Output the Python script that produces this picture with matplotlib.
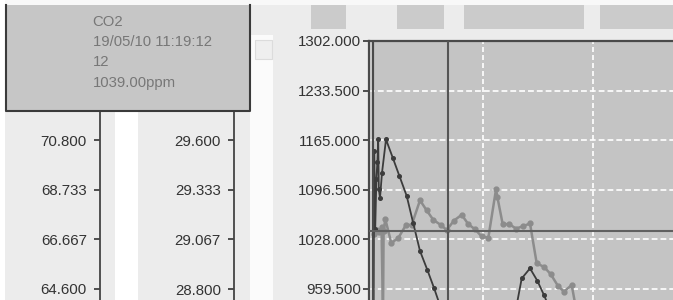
import matplotlib
matplotlib.use('Agg')
import matplotlib.pyplot as plt
from matplotlib.patches import Rectangle
from matplotlib.lines import Line2D

plt.rcParams['font.family'] = ['Liberation Sans', 'DejaVu Sans']

# tooltip content
tip_lines = ['CO2', '19/05/10 11:19:12', '12', '1039.00ppm']
cursor_t = 75
cursor_val = 1039.0

# axis ticks
rh_ticks = [70.800, 68.733, 66.667, 64.600]
temp_ticks = [29.600, 29.333, 29.067, 28.800]
co2_ticks = [1302.0, 1233.5, 1165.0, 1096.5, 1028.0, 959.5]
time_grid = [110, 220]

# series (time index, ppm)
light_t = [1.0, 3.5, 6.0, 8.5, 10.0, 10.6, 12.3, 18.3, 25.3, 33.0, 38.7, 47.0, 53.7, 60.3,
           67.7, 73.7, 81.0, 88.7, 95.3, 102.0, 108.7, 115.3, 123.0, 124.3, 129.7, 136.3,
           143.0, 149.7, 157.0, 163.7, 171.0, 177.7, 185.3, 191.0, 198.7, 204.0]
light_v = [1036, 1041, 1038, 1045, 920, 1040, 1056, 1023, 1030, 1048, 1048, 1082, 1068, 1055,
           1048, 1041, 1054, 1062, 1049, 1042, 1032, 1030, 1097, 1087, 1049, 1049,
           1043, 1046, 1050, 995, 990, 980, 963, 956, 965, 925]
dark_t = [0.6, 1.2, 2.2, 3.4, 4.4, 5.2, 5.8, 7.0, 9.0, 13.0, 19.7, 26.3, 33.7, 40.3, 47.0,
          54.3, 61.0, 67.7, 90, 120, 142, 148.7, 157.0, 164.3, 171.0, 178.0, 186]
dark_v = [910, 1150, 1042, 1112, 1135, 1166, 1098, 1085, 1120, 1166, 1141, 1116, 1088, 1050, 1012,
          986, 961, 934, 870, 860, 925, 974, 988, 971, 951, 928, 900]

W, H = 673, 300
fig = plt.figure(figsize=(6.73, 3.0), dpi=100, facecolor='#ececec')


def rect(x0, y0, x1, y1, fc, ec='none', lw=0, z=1):
    fig.patches.append(Rectangle((x0 / W, 1 - y1 / H), (x1 - x0) / W, (y1 - y0) / H,
                                 transform=fig.transFigure, fc=fc, ec=ec, lw=lw, zorder=z))


def pline(xs, ys, color, lw, z=2):
    fig.lines.append(Line2D([x / W for x in xs], [1 - y / H for y in ys],
                            transform=fig.transFigure, color=color, lw=lw, zorder=z))


# background chrome
rect(0, 0, 673, 5, '#f8f8f8')
rect(0, 0, 5, 300, 'white')
rect(115, 112, 138, 300, 'white')
rect(250, 35, 273, 300, '#fbfbfb')
rect(255, 40, 272, 59, '#efefef', '#dcdcdc', 0.8, z=2)
pline([259.5, 263.5, 267.5], [53, 49, 53], '#a0a0a0', 1.2)
for x0, x1 in [(311, 346), (397, 444), (464, 584), (600, 673)]:
    rect(x0, 5, x1, 29, '#cbcbcb')

top = 1 - 41 / H
tick_kw = dict(direction='out', length=4.5, width=1.2, labelsize=10.8, colors='#333333')

# left axes (RH and temperature)
for xpos, ticks, lims in [(100, rh_ticks, (64.142, 74.92)), (234, temp_ticks, (28.741, 30.1316))]:
    a = fig.add_axes([xpos / W, 0, 1e-4, top])
    a.set_facecolor('none')
    for s in ['right', 'top', 'bottom']:
        a.spines[s].set_visible(False)
    a.spines['left'].set_color('#444444')
    a.spines['left'].set_linewidth(1.3)
    a.set_ylim(*lims)
    a.set_xticks([])
    a.set_yticks(ticks)
    a.set_yticklabels(['%.3f' % v for v in ticks])
    a.tick_params(axis='y', pad=5, **tick_kw)

# main CO2 axes
ax = fig.add_axes([369 / W, 0, (W - 369) / W, top])
ax.set_facecolor('#c4c4c4')
ax.set_xlim(-4, 300)
ax.set_ylim(944.3, 1302)
for s in ['right', 'bottom']:
    ax.spines[s].set_visible(False)
for s in ['left', 'top']:
    ax.spines[s].set_color('#4a4a4a')
    ax.spines[s].set_linewidth(1.6)
ax.set_xticks([])
ax.set_yticks(co2_ticks)
ax.set_yticklabels(['%.3f' % v for v in co2_ticks])
ax.tick_params(axis='y', pad=1.5, **tick_kw)

ax.axvspan(-4, 0, color='#d6d6d6', zorder=1)
ax.axvline(0, color='#4a4a4a', lw=1.6, zorder=5)
for v in co2_ticks[1:]:
    ax.axhline(v, color='white', lw=1.2, ls=(0, (3.5, 1.8)), zorder=2)
for t in time_grid:
    ax.axvline(t, color='white', lw=1.2, ls=(0, (3.0, 1.8)), zorder=2)

ax.plot(light_t, light_v, color='#8c8c8c', lw=1.8, marker='o', ms=3.5, zorder=3)
ax.plot(dark_t, dark_v, color='#3c3c3c', lw=1.3, marker='o', ms=2.6, zorder=4)

ax.axvline(cursor_t, color='#555555', lw=1.5, zorder=5)
ax.axhline(cursor_val, color='#606060', lw=1.5, zorder=5)

# tooltip box (no top border, it runs off the top strip)
rect(5, 5, 250, 112, '#c6c6c6', z=5)
pline([5.5, 5.5, 249.5, 249.5], [5, 111.5, 111.5, 5], '#3a3a3a', 1.5, z=6)
for i, s in enumerate(tip_lines):
    fig.text(92.7 / W, 1 - (22.5 + 20 * i) / H, s, color='#777777', fontsize=10.7,
             va='center', ha='left', zorder=6)

fig.savefig('out.png', dpi=100, facecolor=fig.get_facecolor())
